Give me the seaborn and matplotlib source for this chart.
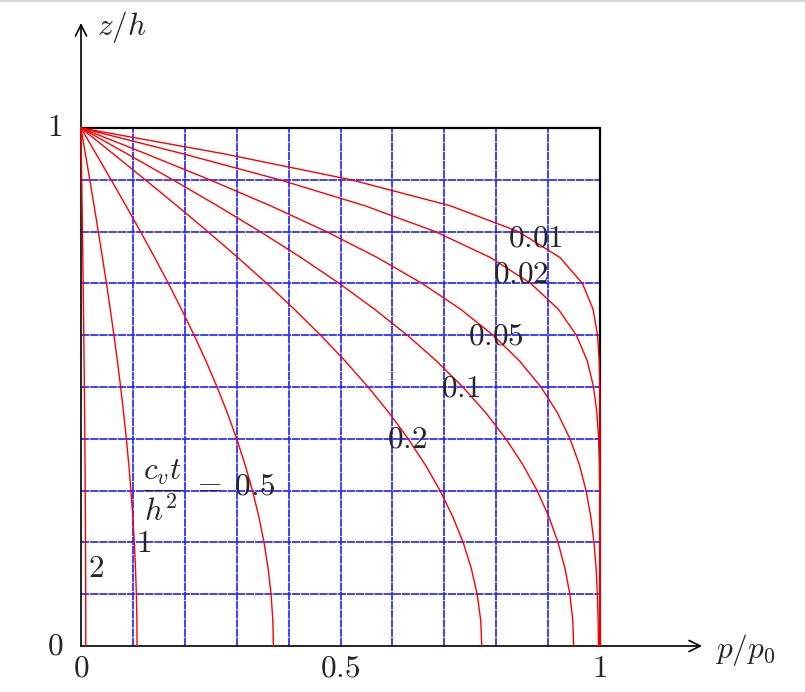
import matplotlib
matplotlib.use("Agg")
import matplotlib.pyplot as plt
import seaborn as sns
import pandas as pd

# ---- data ----
z_levels = [0.0, 0.05, 0.1, 0.15, 0.2, 0.25, 0.3, 0.35, 0.4, 0.45, 0.5,
            0.55, 0.6, 0.65, 0.7, 0.75, 0.8, 0.85, 0.9, 0.95, 1.0]
p_T001 = [1.0, 1.0, 1.0, 1.0, 1.0, 1.0, 1.0, 1.0, 1.0, 1.0, 0.9996,
          0.9985, 0.9953, 0.9867, 0.9661, 0.9229, 0.8427, 0.7112, 0.5205, 0.2763, 0.0]
p_T002 = [1.0, 1.0, 1.0, 1.0, 0.9999, 0.9998, 0.9995, 0.9988, 0.9973, 0.9940, 0.9876,
          0.9756, 0.9545, 0.9199, 0.8664, 0.7887, 0.6827, 0.5467, 0.3829, 0.1973, 0.0]
p_T005 = [0.9970, 0.9964, 0.9949, 0.9925, 0.9884, 0.9822, 0.9731, 0.9603, 0.9422, 0.9181, 0.8862,
          0.8452, 0.7940, 0.7316, 0.6572, 0.5708, 0.4729, 0.3648, 0.2482, 0.1257, 0.0]
p_T01 = [0.9493, 0.9475, 0.9419, 0.9325, 0.9191, 0.9013, 0.8789, 0.8514, 0.8186, 0.7801, 0.7357,
         0.6852, 0.6286, 0.5659, 0.4975, 0.4238, 0.3452, 0.2627, 0.1769, 0.0890, 0.0]
p_T02 = [0.7723, 0.7701, 0.7633, 0.7520, 0.7363, 0.7162, 0.6918, 0.6632, 0.6304, 0.5937, 0.5532,
         0.5091, 0.4617, 0.4111, 0.3578, 0.3021, 0.2443, 0.1847, 0.1239, 0.0622, 0.0]
p_T05 = [0.3708, 0.3696, 0.3662, 0.3605, 0.3526, 0.3426, 0.3304, 0.3161, 0.3000, 0.2819, 0.2622,
         0.2408, 0.2179, 0.1937, 0.1683, 0.1419, 0.1146, 0.0866, 0.0580, 0.0291, 0.0]
p_T1 = [0.1080, 0.1077, 0.1067, 0.1050, 0.1027, 0.0998, 0.0962, 0.0921, 0.0874, 0.0821, 0.0764,
        0.0701, 0.0635, 0.0564, 0.0490, 0.0413, 0.0334, 0.0252, 0.0169, 0.0085, 0.0]
p_T2 = [0.00916, 0.00913, 0.00904, 0.00890, 0.00871, 0.00846, 0.00816, 0.00781, 0.00741, 0.00696, 0.00648,
        0.00595, 0.00538, 0.00479, 0.00416, 0.00350, 0.00283, 0.00214, 0.00143, 0.00072, 0.0]

T_names = ["0.01", "0.02", "0.05", "0.1", "0.2", "0.5", "1", "2"]
series = [p_T001, p_T002, p_T005, p_T01, p_T02, p_T05, p_T1, p_T2]

label_texts = ["0.01", "0.02", "0.05", "0.1", "0.2",
               r"$\dfrac{c_v t}{h^2}\;=\;0.5$", "1", "2"]
label_x = [0.875, 0.848, 0.800, 0.732, 0.628, 0.119, 0.121, 0.029]
label_z = [0.788, 0.718, 0.598, 0.498, 0.400, 0.300, 0.197, 0.149]

x_ticks = [0.0, 0.5, 1.0]
x_tick_labels = ["0", "0.5", "1"]
y_ticks = [0.0, 1.0]
y_tick_labels = ["0", "1"]
grid_vals = [0.1, 0.2, 0.3, 0.4, 0.5, 0.6, 0.7, 0.8, 0.9]

rows = []
for name, vals in zip(T_names, series):
    for zz, pp in zip(z_levels, vals):
        rows.append({"T": name, "z": zz, "p": pp})
df = pd.DataFrame(rows)

# ---- figure ----
sns.set_style("white")
plt.rcParams["mathtext.fontset"] = "cm"
plt.rcParams["font.family"] = ["DejaVu Serif"]

fig = plt.figure(figsize=(8.05, 6.92), dpi=100)
ax = fig.add_axes([0, 0, 1, 1])
ax.set_xlim(-81 / 519, (805 - 81) / 519)
ax.set_ylim(-46 / 518, 646 / 518)
ax.axis("off")

# blue dashed grid inside unit box
ax.vlines(grid_vals, 0, 1, colors="#2020ff", linestyles=(0, (5, 0.5)), lw=1.2, zorder=1)
ax.hlines(grid_vals, 0, 1, colors="#2020ff", linestyles=(0, (5, 0.5)), lw=1.2, zorder=1)

# black box top and right
ax.plot([0, 1], [1, 1], color="black", lw=1.6, zorder=2)
ax.plot([1, 1], [0, 1], color="black", lw=1.6, zorder=2)

# axes with arrows
ax.annotate("", xy=(1.1965, 0), xytext=(0, 0),
            arrowprops=dict(arrowstyle="->", lw=1.2, color="black",
                            shrinkA=0, shrinkB=0, mutation_scale=20), zorder=3)
ax.annotate("", xy=(0, 1.2027), xytext=(0, 0),
            arrowprops=dict(arrowstyle="->", lw=1.2, color="black",
                            shrinkA=0, shrinkB=0, mutation_scale=20), zorder=3)

# isochrones
sns.lineplot(data=df, x="p", y="z", hue="T", palette=["red"] * len(T_names),
             sort=False, estimator=None, legend=False, lw=1.0, ax=ax, zorder=4)

fs = 22.5
for t, lx, lz in zip(label_texts, label_x, label_z):
    if t.startswith("$"):
        ax.text(lx, lz, t, fontsize=fs, ha="left", va="center", zorder=5)
    else:
        ax.text(lx, lz, "$" + t + "$", fontsize=fs, ha="center", va="center", zorder=5)

for v, s in zip(x_ticks, x_tick_labels):
    ax.text(v, -0.0425, "$" + s + "$", fontsize=fs, ha="center", va="center")
for v, s in zip(y_ticks, y_tick_labels):
    ax.text(-0.05, v, "$" + s + "$", fontsize=fs, ha="center", va="center")

ax.text(0.031, 1.195, "$z/h$", fontsize=fs, ha="left", va="center")
ax.text(1.2216, -0.0077, "$p/p_0$", fontsize=fs, ha="left", va="center")

# light border line at the top of the image
fig.add_artist(plt.Line2D([0, 1], [0.998, 0.998], color="#d0d0d0", lw=1.2,
                          transform=fig.transFigure))

fig.savefig("out.png", dpi=100)
